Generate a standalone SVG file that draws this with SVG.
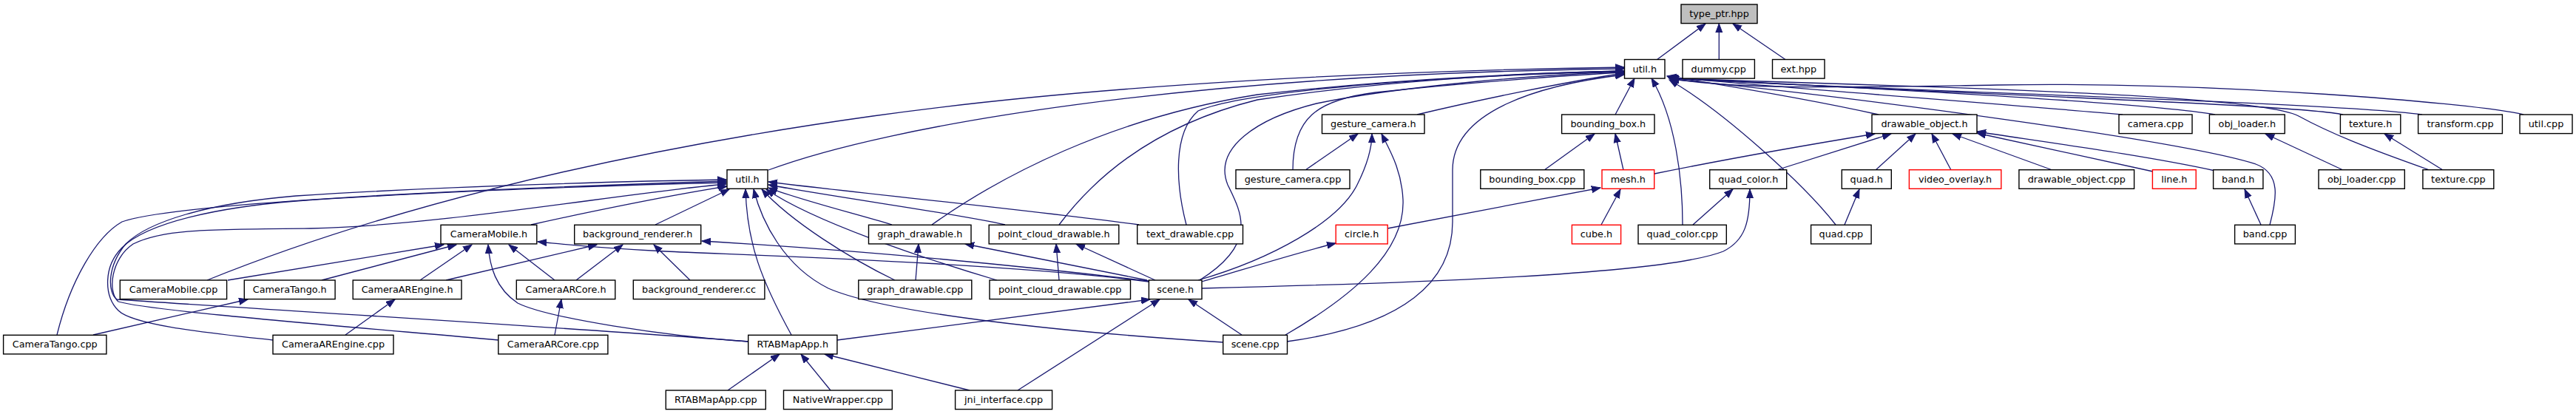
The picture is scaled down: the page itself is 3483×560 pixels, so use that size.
<svg xmlns="http://www.w3.org/2000/svg" width="3483" height="560" viewBox="0 0 3483 560">
<style>
.n rect{fill:#fff;stroke:#000;stroke-width:1.4}
.n.r rect{stroke:#ff0000}
.n.g rect{fill:#bfbfbf}
.n text{font-family:"DejaVu Sans",sans-serif;font-size:12.8px;text-anchor:middle;fill:#000}
.e path{fill:none;stroke:#191970;stroke-width:1.3;marker-end:url(#a)}
</style>
<defs>
<marker id="a" markerUnits="userSpaceOnUse" markerWidth="14" markerHeight="11" refX="12" refY="5" orient="auto"><path d="M0,0.5 L12,5 L0,9.5 z" fill="#191970" stroke="#191970" stroke-width="1"/></marker>
</defs>
<g id="edges" class="e">
<path d="M2240.6,80.5 L2306,32"/>
<path d="M2324.3,80.5 L2324.3,32"/>
<path d="M2414,80.5 L2343,32"/>
<path d="M1916,155 C2000,135 2120,110 2196,99"/>
<path d="M2184,155 L2210,106"/>
<path d="M2540,155 C2450,135 2330,115 2254,103"/>
<path d="M2870,155 C2700,140 2400,118 2255,104"/>
<path d="M2995,155 C2900,138 2500,118 2256,105"/>
<path d="M3168,155 C3100,140 2500,122 2257,105"/>
<path d="M3275,155 C3150,138 2520,122 2257,106"/>
<path d="M3412,155 C3350,140 3000,110 2700,115 C2500,118 2350,122 2258,106"/>
<path d="M1039,230 C1200,170 1600,100 2196,93"/>
<path d="M1748,230 C1748,160 1780,135 1860,125 C2000,110 2150,100 2196,98"/>
<path d="M1765,230 L1836,181"/>
<path d="M2088,230 L2156,181"/>
<path d="M2195,230 L2184,181"/>
<path d="M2237,235 C2350,212 2450,195 2535,181"/>
<path d="M2402,230 L2557,181"/>
<path d="M2536,230 L2590,181"/>
<path d="M2638,230 L2612,181"/>
<path d="M2775,230 L2640,181"/>
<path d="M2911,232 L2673,180"/>
<path d="M2995,231 C2900,210 2750,190 2673,178"/>
<path d="M3057,304 L3035,256"/>
<path d="M3069,304 C3078,270 3085,235 3050,222 C2950,190 2500,130 2258,107"/>
<path d="M3168,230 L3063,181"/>
<path d="M3303,230 L3224,181"/>
<path d="M3285,230 C3200,200 3150,180 3108,157 C3050,125 2500,115 2258,106"/>
<path d="M2275,304 C2275,240 2265,160 2233,106"/>
<path d="M2289,304 L2343,256"/>
<path d="M2482,304 C2440,250 2330,150 2257,108"/>
<path d="M2494,304 L2514,256"/>
<path d="M2165,304 L2191,256"/>
<path d="M1876,309 L2164,254"/>
<path d="M1625,381 C1680,365 1750,343 1806,329"/>
<path d="M1625,390 C1900,383 2250,372 2330,340 C2360,325 2366,300 2366,256"/>
<path d="M1620,379 C1720,350 1810,300 1835,250 C1850,220 1855,200 1855,181"/>
<path d="M1738,453 C1830,400 1900,340 1897,270 C1895,230 1880,205 1868,181"/>
<path d="M1740,462 C1900,440 1964,380 1964,300 L1964,230 C1964,150 2080,115 2196,101"/>
<path d="M1679,453 L1607,405"/>
<path d="M1654,463 C1450,450 1200,425 1120,390 C1060,360 1030,300 1019,256"/>
<path d="M1622,379 C1700,330 1680,290 1660,250 C1640,200 1700,160 1780,140 C1900,115 2100,100 2196,97"/>
<path d="M1260,304 C1350,240 1500,160 1700,128 C1900,105 2100,98 2196,96"/>
<path d="M1432,304 C1480,240 1560,170 1700,135 C1900,105 2100,98 2196,96"/>
<path d="M1604,304 C1590,250 1585,180 1620,150 C1680,125 1900,105 2196,96"/>
<path d="M886,304 L986,256"/>
<path d="M718,304 C780,290 900,265 983,252"/>
<path d="M1070,453 C1030,380 1010,330 1008,256"/>
<path d="M1210,379 C1150,350 1070,300 1030,256"/>
<path d="M1348,379 C1250,350 1100,300 1036,256"/>
<path d="M1206,304 C1160,290 1080,270 1039,254"/>
<path d="M1359,304 C1300,290 1150,270 1039,250"/>
<path d="M1540,304 C1400,285 1150,260 1039,246"/>
<path d="M77,453 C95,380 130,320 165,300 C220,280 500,260 982,245"/>
<path d="M369,460 C280,450 180,440 160,420 C140,400 140,360 165,335 C200,300 300,280 400,272 C600,258 850,250 982,247"/>
<path d="M674,460 C450,440 200,420 160,408 C145,395 150,350 180,330 C220,310 280,310 420,309 C600,305 850,260 982,249"/>
<path d="M1012,462 C800,445 300,415 158,405 C145,395 145,360 170,330 C200,300 280,275 400,265 C600,252 850,245 982,243"/>
<path d="M280,379 C500,290 800,210 1180,157 C1500,112 1900,95 2196,91"/>
<path d="M308,379 L600,331"/>
<path d="M435,379 L617,331"/>
<path d="M568,379 L638,331"/>
<path d="M603,379 L807,331"/>
<path d="M750,379 L688,331"/>
<path d="M779,379 L842,331"/>
<path d="M933,379 L884,331"/>
<path d="M1012,462 C900,455 740,430 700,410 C670,390 662,360 660,331"/>
<path d="M1132,460 L1555,405"/>
<path d="M984,528 L1054,479"/>
<path d="M1123,528 L1083,479"/>
<path d="M1311,528 L1115,479"/>
<path d="M1376,528 L1568,405"/>
<path d="M1551,379 L1305,330"/>
<path d="M1562,379 L1455,330"/>
<path d="M1553,381 C1350,355 1000,345 900,340 C800,335 760,330 727,327"/>
<path d="M1553,380 C1300,350 1100,335 949,326"/>
<path d="M750,453 L759,405"/>
<path d="M467,453 L534,405"/>
<path d="M126,453 L335,405"/>
<path d="M1238,379 L1242,330"/>
<path d="M1432,379 L1428,330"/>
</g>
<g id="n_typeptr" class="n g"><rect x="2273" y="6" width="103" height="25.6"/><text x="2324.5" y="23">type_ptr.hpp</text></g>
<g id="n_utilT" class="n"><rect x="2196.5" y="80.5" width="54.5" height="25.6"/><text x="2223.8" y="97.5">util.h</text></g>
<g id="n_dummy" class="n"><rect x="2275" y="80.5" width="97.4" height="25.6"/><text x="2323.7" y="97.5">dummy.cpp</text></g>
<g id="n_ext" class="n"><rect x="2396.5" y="80.5" width="70.5" height="25.6"/><text x="2431.8" y="97.5">ext.hpp</text></g>
<g id="n_gch" class="n"><rect x="1787.5" y="155" width="138.5" height="25.6"/><text x="1856.8" y="172">gesture_camera.h</text></g>
<g id="n_bbh" class="n"><rect x="2111.6" y="155" width="125.4" height="25.6"/><text x="2174.3" y="172">bounding_box.h</text></g>
<g id="n_doh" class="n"><rect x="2531" y="155" width="142" height="25.6"/><text x="2602" y="172">drawable_object.h</text></g>
<g id="n_camcpp" class="n"><rect x="2865" y="155" width="99" height="25.6"/><text x="2914.5" y="172">camera.cpp</text></g>
<g id="n_olh" class="n"><rect x="2987.4" y="155" width="101.8" height="25.6"/><text x="3038.3" y="172">obj_loader.h</text></g>
<g id="n_texh" class="n"><rect x="3164.4" y="155" width="81.4" height="25.6"/><text x="3205.1" y="172">texture.h</text></g>
<g id="n_tfcpp" class="n"><rect x="3269.6" y="155" width="113.8" height="25.6"/><text x="3326.5" y="172">transform.cpp</text></g>
<g id="n_utilcpp" class="n"><rect x="3407" y="155" width="71" height="25.6"/><text x="3442.5" y="172">util.cpp</text></g>
<g id="n_util2" class="n"><rect x="983" y="229.7" width="55" height="25.6"/><text x="1010.5" y="246.7">util.h</text></g>
<g id="n_gccpp" class="n"><rect x="1671" y="229.7" width="154" height="25.6"/><text x="1748" y="246.7">gesture_camera.cpp</text></g>
<g id="n_bbcpp" class="n"><rect x="2001.8" y="229.7" width="140" height="25.6"/><text x="2071.8" y="246.7">bounding_box.cpp</text></g>
<g id="n_meshh" class="n r"><rect x="2166" y="229.7" width="70.7" height="25.6"/><text x="2201.3" y="246.7">mesh.h</text></g>
<g id="n_qch" class="n"><rect x="2311.7" y="229.7" width="104" height="25.6"/><text x="2363.7" y="246.7">quad_color.h</text></g>
<g id="n_quadh" class="n"><rect x="2490.3" y="229.7" width="67" height="25.6"/><text x="2523.8" y="246.7">quad.h</text></g>
<g id="n_voh" class="n r"><rect x="2581.4" y="229.7" width="124.4" height="25.6"/><text x="2643.6" y="246.7">video_overlay.h</text></g>
<g id="n_docpp" class="n"><rect x="2729.9" y="229.7" width="155.7" height="25.6"/><text x="2807.8" y="246.7">drawable_object.cpp</text></g>
<g id="n_lineh" class="n r"><rect x="2910.4" y="229.7" width="58.8" height="25.6"/><text x="2939.8" y="246.7">line.h</text></g>
<g id="n_bandh" class="n"><rect x="2992.6" y="229.7" width="67.3" height="25.6"/><text x="3026.3" y="246.7">band.h</text></g>
<g id="n_olcpp" class="n"><rect x="3135" y="229.7" width="116.3" height="25.6"/><text x="3193.2" y="246.7">obj_loader.cpp</text></g>
<g id="n_texcpp" class="n"><rect x="3275.9" y="229.7" width="95.9" height="25.6"/><text x="3323.9" y="246.7">texture.cpp</text></g>
<g id="n_cmh" class="n"><rect x="596" y="304.3" width="129.8" height="25.6"/><text x="660.9" y="321.3">CameraMobile.h</text></g>
<g id="n_brh" class="n"><rect x="776.7" y="304.3" width="171" height="25.6"/><text x="862.2" y="321.3">background_renderer.h</text></g>
<g id="n_gdh" class="n"><rect x="1174.5" y="304.3" width="138.5" height="25.6"/><text x="1243.8" y="321.3">graph_drawable.h</text></g>
<g id="n_pcdh" class="n"><rect x="1337.2" y="304.3" width="175.6" height="25.6"/><text x="1425" y="321.3">point_cloud_drawable.h</text></g>
<g id="n_tdcpp" class="n"><rect x="1537.7" y="304.3" width="142.8" height="25.6"/><text x="1609.1" y="321.3">text_drawable.cpp</text></g>
<g id="n_circleh" class="n r"><rect x="1806.2" y="304.3" width="70" height="25.6"/><text x="1841.2" y="321.3">circle.h</text></g>
<g id="n_cubeh" class="n r"><rect x="2125.4" y="304.3" width="66.2" height="25.6"/><text x="2158.5" y="321.3">cube.h</text></g>
<g id="n_qccpp" class="n"><rect x="2215" y="304.3" width="119.3" height="25.6"/><text x="2274.7" y="321.3">quad_color.cpp</text></g>
<g id="n_quadcpp" class="n"><rect x="2448.6" y="304.3" width="81.5" height="25.6"/><text x="2489.4" y="321.3">quad.cpp</text></g>
<g id="n_bandcpp" class="n"><rect x="3021.6" y="304.3" width="81.8" height="25.6"/><text x="3062.5" y="321.3">band.cpp</text></g>
<g id="n_cmcpp" class="n"><rect x="162.3" y="379" width="144.3" height="25.6"/><text x="234.5" y="396">CameraMobile.cpp</text></g>
<g id="n_cth" class="n"><rect x="330.3" y="379" width="122.8" height="25.6"/><text x="391.7" y="396">CameraTango.h</text></g>
<g id="n_caeh" class="n"><rect x="477.2" y="379" width="146.8" height="25.6"/><text x="550.6" y="396">CameraAREngine.h</text></g>
<g id="n_cach" class="n"><rect x="698.3" y="379" width="133.5" height="25.6"/><text x="765" y="396">CameraARCore.h</text></g>
<g id="n_brcc" class="n"><rect x="856.3" y="379" width="177.6" height="25.6"/><text x="945.1" y="396">background_renderer.cc</text></g>
<g id="n_gdcpp" class="n"><rect x="1160.8" y="379" width="153" height="25.6"/><text x="1237.3" y="396">graph_drawable.cpp</text></g>
<g id="n_pcdcpp" class="n"><rect x="1338" y="379" width="190.5" height="25.6"/><text x="1433.2" y="396">point_cloud_drawable.cpp</text></g>
<g id="n_sceneh" class="n"><rect x="1553.4" y="379" width="71.6" height="25.6"/><text x="1589.2" y="396">scene.h</text></g>
<g id="n_ctcpp" class="n"><rect x="4.6" y="453.3" width="139.3" height="25.6"/><text x="74.2" y="470.3">CameraTango.cpp</text></g>
<g id="n_caecpp" class="n"><rect x="369" y="453.3" width="163" height="25.6"/><text x="450.5" y="470.3">CameraAREngine.cpp</text></g>
<g id="n_caccpp" class="n"><rect x="673.8" y="453.3" width="148.1" height="25.6"/><text x="747.9" y="470.3">CameraARCore.cpp</text></g>
<g id="n_rtabh" class="n"><rect x="1011.7" y="453.3" width="120.2" height="25.6"/><text x="1071.8" y="470.3">RTABMapApp.h</text></g>
<g id="n_scenecpp" class="n"><rect x="1653.7" y="453.3" width="86.8" height="25.6"/><text x="1697.1" y="470.3">scene.cpp</text></g>
<g id="n_rtabcpp" class="n"><rect x="900.3" y="528" width="135" height="25.6"/><text x="967.8" y="545">RTABMapApp.cpp</text></g>
<g id="n_nwcpp" class="n"><rect x="1059.5" y="528" width="146.8" height="25.6"/><text x="1132.9" y="545">NativeWrapper.cpp</text></g>
<g id="n_jnicpp" class="n"><rect x="1291.6" y="528" width="131" height="25.6"/><text x="1357.1" y="545">jni_interface.cpp</text></g>
</svg>
